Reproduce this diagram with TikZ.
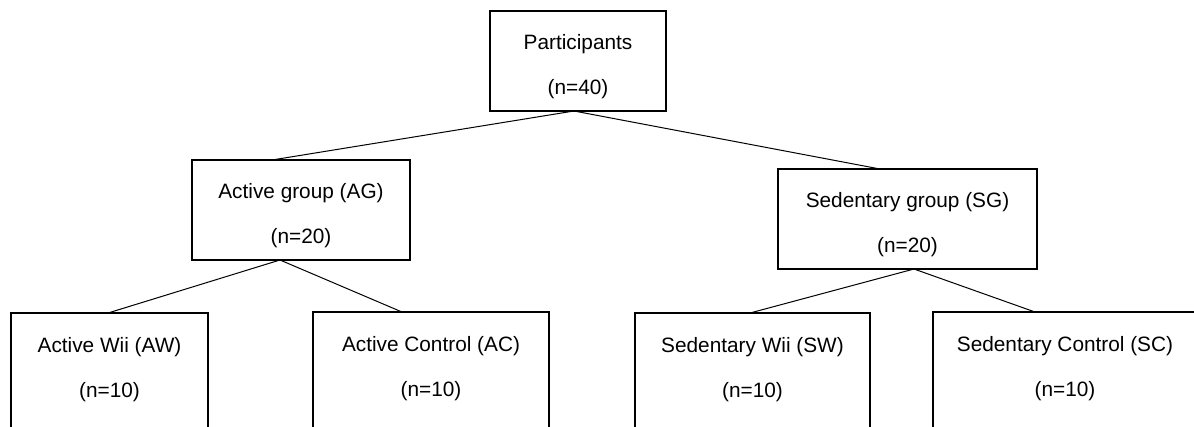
\documentclass[tikz,border=0pt]{standalone}
\usepackage{fontspec}
\setmainfont{Liberation Sans}
\begin{document}
\begin{tikzpicture}[x=1pt,y=-1pt,
  box/.style={draw, line width=1.3pt, minimum width=#1, minimum height=100pt, inner sep=0pt, outer sep=0pt, anchor=north west},
  lowbox/.style={box=#1, minimum height=140pt},
  lbl/.style={anchor=base, inner sep=0pt, font=\fontsize{20.8}{24}\selectfont},
  conn/.style={line width=1pt}]
\clip (0,0) rectangle (1194,426);
\fill[white] (0,0) rectangle (1194,426);
% boxes
\node[box=176pt] (top) at (490,11) {};
\node[box=218pt] (ag) at (192,160) {};
\node[box=259pt] (sg) at (778,169) {};
\node[lowbox=197pt] (aw) at (11,313) {};
\node[lowbox=236pt] (ac) at (313,312) {};
\node[lowbox=235pt] (sw) at (635,313) {};
\node[lowbox=264pt] (sc) at (933,312) {};
% texts
\node[lbl] (top1) at ([yshift=-38pt]top.north) {Participants};
\node[lbl] (top2) at ([yshift=-83pt]top.north) {(n=40)};
\node[lbl] (ag1) at ([yshift=-38pt]ag.north) {Active group (AG)};
\node[lbl] (ag2) at ([yshift=-83pt]ag.north) {(n=20)};
\node[lbl] (sg1) at ([yshift=-38pt]sg.north) {Sedentary group (SG)};
\node[lbl] (sg2) at ([yshift=-83pt]sg.north) {(n=20)};
\node[lbl] (aw1) at ([yshift=-39pt]aw.north) {Active Wii (AW)};
\node[lbl] (aw2) at ([yshift=-84pt]aw.north) {(n=10)};
\node[lbl] (ac1) at ([yshift=-39pt]ac.north) {Active Control (AC)};
\node[lbl] (ac2) at ([yshift=-84pt]ac.north) {(n=10)};
\node[lbl] (sw1) at ([yshift=-39pt]sw.north) {Sedentary Wii (SW)};
\node[lbl] (sw2) at ([yshift=-84pt]sw.north) {(n=10)};
\node[lbl] (sc1) at ([yshift=-39pt]sc.north) {Sedentary Control (SC)};
\node[lbl] (sc2) at ([yshift=-84pt]sc.north) {(n=10)};
% right part of the SC box runs past the picture's edge
\draw[line width=1.3pt] (sc.north east) -- ++(10,0);
% connectors
\draw[conn] ([xshift=-4pt]top.south) -- ([xshift=-29pt]ag.north);
\draw[conn] ([xshift=-4pt]top.south) -- ([xshift=-27.5pt]sg.north);
\draw[conn] ([xshift=-21pt]ag.south) -- ([xshift=-1.5pt]aw.north);
\draw[conn] ([xshift=-21pt]ag.south) -- ([xshift=-29pt]ac.north);
\draw[conn] ([xshift=6.5pt]sg.south) -- ([xshift=-2.5pt]sw.north);
\draw[conn] ([xshift=6.5pt]sg.south) -- ([xshift=-30pt]sc.north);
\end{tikzpicture}
\end{document}
